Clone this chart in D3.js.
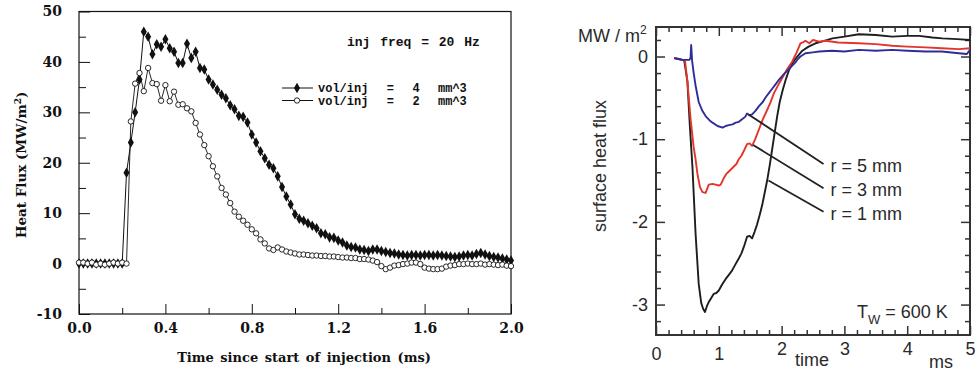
<!DOCTYPE html>
<html><head><meta charset="utf-8">
<script src="https://cdn.jsdelivr.net/npm/d3@7"></script>
<style>body{margin:0;background:#fff} svg{display:block}</style>
</head><body><svg id="c" width="976" height="372"></svg>
<script>
// ---------- LEFT PANEL DATA ----------
const leftTimes = [0,0.02,0.04,0.06,0.08,0.1,0.12,0.14,0.16,0.18,0.2,0.22,0.24,0.26,0.28,0.3,0.32,0.34,0.36,0.38,0.4,
0.42,0.44,0.46,0.48,0.5,0.52,0.54,0.56,0.58,0.6,0.62,0.64,0.66,0.68,0.7,0.72,0.74,0.76,0.78,0.8,
0.82,0.84,0.86,0.88,0.9,0.92,0.94,0.96,0.98,1.0,1.02,1.04,1.06,1.08,1.1,1.12,1.14,1.16,1.18,1.2,
1.22,1.24,1.26,1.28,1.3,1.32,1.34,1.36,1.38,1.4,1.42,1.44,1.46,1.48,1.5,1.52,1.54,1.56,1.58,1.6,
1.62,1.64,1.66,1.68,1.7,1.72,1.74,1.76,1.78,1.8,1.82,1.84,1.86,1.88,1.9,1.92,1.94,1.96,1.98,2.0];
const flux4 = [0,0,0,0,0,0,0,0,0,0,0,
18,24,30,36.5,46,45,41.5,43.5,43,44.5,
42.7,42,39.8,39.8,43.6,40.8,42,38.8,38.5,36.5,
35.5,34.5,33.5,32.8,31.4,30.6,29.3,29.1,28,25.6,
24,22.3,20.9,19.6,18.9,17.3,15.2,13.3,11.7,9.8,
8.9,8.5,8.0,7.5,7.0,6.0,5.8,5.2,5.1,4.6,
4.2,3.6,3.3,3.2,2.8,2.7,2.5,2.8,2.8,2.5,
2.3,2.1,2.0,1.8,1.7,1.6,1.7,1.7,1.6,1.7,
1.7,1.6,1.7,1.6,1.5,1.4,1.3,1.4,1.6,1.7,
1.6,1.9,2.1,1.8,1.5,1.3,1.2,1.0,0.8,0.6];
const flux2 = [0.2,0.2,0,0.2,-0.2,0,-0.2,0,0.2,0,0.2,0,
28.2,35.7,37.8,34.2,38.8,35.8,35.6,32.3,35.4,32.2,
34.1,31.5,31.6,30.8,30.2,27.9,25.6,23.5,21.3,19.3,
17.3,15.0,13.7,12.0,10.3,9.3,8.5,7.7,6.8,6.0,
4.8,4.0,3.0,2.7,3.2,2.8,2.4,2.2,2.0,1.8,
1.8,1.7,1.6,1.6,1.5,1.5,1.4,1.4,1.3,1.2,
1.2,1.1,1.1,0.9,0.9,0.8,0.6,0.3,-0.5,-1.1,
-0.8,-0.4,-0.3,-0.1,0.0,0.2,0.2,-0.1,-0.8,-1.0,
-1.1,-1.1,-1.0,-0.6,-0.4,-0.3,-0.1,-0.1,0.0,-0.1,
-0.1,0.0,-0.2,-0.1,-0.2,-0.3,-0.2,-0.4,-0.5];
const leftXTicks = [0,0.4,0.8,1.2,1.6,2.0];
const leftXMinor = [0.2,0.6,1.0,1.4,1.8];
const leftYTicks = [-10,0,10,20,30,40,50];
const leftYMinor = [-5,5,15,25,35,45];
const leftLegend = ["vol/inj  =  4  mm^3","vol/inj  =  2  mm^3"];
const leftNote = "inj freq = 20 Hz";
const leftXTitle = "Time since start of injection (ms)";
const leftYTitle = "Heat Flux (MW/m";

// ---------- RIGHT PANEL DATA ----------
const blueT = [0.29,0.36,0.42,0.48,0.53,0.55,0.56,0.575,0.60,0.63,0.68,0.74,0.79,0.85,0.90,0.98,1.06,1.11,1.16,1.22,1.27,1.32,1.37,1.42,1.45,1.49,1.53,1.58,1.64,1.70,1.75,1.80,1.85,1.90,1.96,2.04,2.12,2.17,2.22,2.26,2.30,2.38,2.50,2.60,2.80,3.00,3.23,3.50,3.76,4.00,4.29,4.55,4.82,4.95,5.0];
const blueV = [-0.02,-0.03,-0.04,-0.04,-0.04,-0.02,0.14,-0.05,-0.20,-0.35,-0.55,-0.66,-0.72,-0.77,-0.80,-0.84,-0.86,-0.84,-0.83,-0.82,-0.80,-0.79,-0.76,-0.73,-0.69,-0.71,-0.70,-0.66,-0.60,-0.55,-0.49,-0.44,-0.39,-0.34,-0.28,-0.21,-0.15,-0.11,-0.07,-0.03,0.00,0.04,0.05,0.06,0.07,0.06,0.08,0.07,0.08,0.07,0.06,0.06,0.04,0.03,0.08];
const redT = [0.29,0.36,0.42,0.46,0.50,0.55,0.60,0.63,0.66,0.70,0.74,0.79,0.84,0.90,0.95,1.00,1.03,1.08,1.12,1.16,1.20,1.24,1.28,1.32,1.36,1.40,1.45,1.49,1.53,1.58,1.64,1.70,1.75,1.82,1.88,1.95,2.01,2.09,2.17,2.24,2.30,2.34,2.38,2.44,2.50,2.60,2.70,2.90,3.23,3.50,3.76,4.00,4.29,4.55,4.82,5.0];
const redV = [-0.02,-0.03,-0.04,-0.04,-0.30,-0.75,-1.10,-1.24,-1.42,-1.58,-1.64,-1.65,-1.55,-1.54,-1.55,-1.56,-1.55,-1.47,-1.42,-1.39,-1.36,-1.33,-1.30,-1.24,-1.20,-1.14,-1.06,-1.05,-1.08,-1.00,-0.88,-0.76,-0.68,-0.56,-0.44,-0.34,-0.26,-0.15,-0.06,0.05,0.16,0.17,0.19,0.16,0.20,0.18,0.19,0.17,0.16,0.15,0.13,0.12,0.11,0.10,0.09,0.10];
const blackT = [0.29,0.36,0.42,0.45,0.50,0.54,0.58,0.63,0.68,0.72,0.75,0.78,0.81,0.84,0.88,0.92,0.96,1.00,1.05,1.11,1.16,1.21,1.26,1.32,1.36,1.40,1.45,1.49,1.53,1.57,1.61,1.65,1.69,1.73,1.77,1.81,1.85,1.89,1.93,1.97,2.02,2.07,2.12,2.17,2.25,2.33,2.43,2.54,2.68,2.81,3.00,3.23,3.50,3.76,4.00,4.19,4.40,4.56,4.80,5.0];
const blackV = [-0.02,-0.03,-0.04,-0.05,-0.30,-0.85,-1.33,-2.14,-2.75,-2.98,-3.05,-3.09,-3.02,-2.97,-2.92,-2.87,-2.86,-2.83,-2.76,-2.69,-2.64,-2.59,-2.52,-2.44,-2.38,-2.30,-2.18,-2.17,-2.20,-2.12,-2.03,-1.92,-1.80,-1.65,-1.50,-1.32,-1.12,-0.92,-0.72,-0.55,-0.40,-0.27,-0.16,-0.08,0.00,0.07,0.12,0.16,0.19,0.22,0.24,0.27,0.26,0.24,0.25,0.25,0.23,0.22,0.21,0.20];
const rightXTicks = [0,1,2,3,4,5];
const rightXMinor = [0.2,0.4,0.6,0.8,1.2,1.4,1.6,1.8,2.2,2.4,2.6,2.8,3.2,3.4,3.6,3.8,4.2,4.4,4.6,4.8];
const rightYTicks = [-3,-2,-1,0];
const rightYMinor = [0.2,-0.2,-0.4,-0.6,-0.8,-1.2,-1.4,-1.6,-1.8,-2.2,-2.4,-2.6,-2.8,-3.2];
const rLabels = ["r = 5 mm","r = 3 mm","r = 1 mm"];

// ---------- DRAW ----------
const svg = d3.select("#c");
svg.append("rect").attr("width",976).attr("height",372).attr("fill","#fff");

// LEFT
const serif = "'DejaVu Serif', serif";
const mono = "'Liberation Mono', monospace";
const xL = d3.scaleLinear([0,2],[79,511]);
const yL = d3.scaleLinear([-10,50],[314,11.5]);
const gL = svg.append("g");

function styleAxis(g){ g.select(".domain").remove(); g.selectAll("line").attr("stroke","#111"); }
gL.append("g").attr("transform","translate(0,314)")
  .call(d3.axisBottom(xL).tickValues(leftXTicks).tickSize(-10).tickPadding(9).tickFormat(d3.format(".1f")))
  .call(styleAxis)
  .call(g=>g.selectAll("text").attr("font-family",serif).attr("font-weight","bold").attr("font-size",14).attr("fill","#111"));
gL.append("g").attr("transform","translate(0,314)")
  .call(d3.axisBottom(xL).tickValues(leftXMinor).tickSize(-6).tickFormat(""))
  .call(styleAxis);
gL.append("g").attr("transform","translate(79,0)")
  .call(d3.axisLeft(yL).tickValues(leftYTicks).tickSize(-11).tickPadding(17).tickFormat(d=>String(d)))
  .call(styleAxis)
  .call(g=>g.selectAll("text").attr("font-family",serif).attr("font-weight","bold").attr("font-size",14).attr("fill","#111"));
gL.append("g").attr("transform","translate(79,0)")
  .call(d3.axisLeft(yL).tickValues(leftYMinor).tickSize(-7).tickFormat(""))
  .call(styleAxis);
gL.append("rect").attr("x",79).attr("y",11.5).attr("width",432).attr("height",302.5)
  .attr("fill","none").attr("stroke","#111").attr("stroke-width",1.2);

const ptsL4 = leftTimes.map((t,i)=>[t,flux4[i]]);
const ptsL2 = leftTimes.map((t,i)=>[t,flux2[i]]);
const lineL = d3.line().x(d=>xL(d[0])).y(d=>yL(d[1]));
gL.append("path").attr("d",lineL(ptsL4)).attr("fill","none").attr("stroke","#111").attr("stroke-width",1);
gL.append("path").attr("d",lineL(ptsL2)).attr("fill","none").attr("stroke","#111").attr("stroke-width",0.9);
const diamond = d3.symbol(d3.symbolDiamond, 32);
gL.selectAll(".f4").data(ptsL4).join("path").attr("d",diamond)
  .attr("transform",d=>`translate(${xL(d[0])},${yL(d[1])})`).attr("fill","#111");
gL.selectAll(".f2").data(ptsL2).join("circle")
  .attr("cx",d=>xL(d[0])).attr("cy",d=>yL(d[1])).attr("r",2.7)
  .attr("fill","#fff").attr("stroke","#111").attr("stroke-width",0.9);

// left texts
gL.append("text").attr("x",347).attr("y",46).attr("font-family",mono).attr("font-weight","bold")
  .attr("font-size",13).attr("word-spacing",2).attr("fill","#111").text(leftNote);
leftLegend.forEach((s,i)=>{
  const y = 88 + i*12.5;
  gL.append("line").attr("x1",282).attr("x2",313).attr("y1",y).attr("y2",y).attr("stroke","#111").attr("stroke-width",1);
  if(i===0) gL.append("path").attr("d",diamond).attr("transform",`translate(297,${y})`).attr("fill","#111");
  else gL.append("circle").attr("cx",297).attr("cy",y).attr("r",2.7).attr("fill","#fff").attr("stroke","#111").attr("stroke-width",0.9);
  gL.append("text").attr("x",318).attr("y",y+4).attr("font-family",mono).attr("font-weight","bold")
    .attr("font-size",12).attr("word-spacing",2).attr("xml:space","preserve").style("white-space","pre")
    .attr("fill","#111").text(s);
});
gL.append("text").attr("x",304).attr("y",362).attr("text-anchor","middle").attr("font-family",serif)
  .attr("font-weight","bold").attr("font-size",13).attr("word-spacing",2).attr("fill","#111").text(leftXTitle);
const yt = gL.append("text").attr("transform","translate(26,165) rotate(-90)").attr("text-anchor","middle")
  .attr("font-family",serif).attr("font-weight","bold").attr("font-size",13.5).attr("fill","#111");
yt.append("tspan").text(leftYTitle);
yt.append("tspan").attr("dy",-5).attr("font-size",9).text("2");
yt.append("tspan").attr("dy",5).text(")");

// RIGHT
const sans = "'Liberation Sans', Arial, sans-serif";
const tc = "#2a2a2a";
const xR = d3.scaleLinear([0,5],[656,970]);
const yR = d3.scaleLinear([-3.368,0.357],[335,27]);
const gR = svg.append("g");
function sa(g){ g.select(".domain").remove(); g.selectAll("line").attr("stroke","#333").attr("stroke-width",1.5); }
// bottom
gR.append("g").attr("transform","translate(0,335)")
  .call(d3.axisBottom(xR).tickValues(rightXTicks).tickSize(-9).tickPadding(12).tickFormat(d=>String(d)))
  .call(sa)
  .call(g=>g.selectAll("text").attr("font-family",sans).attr("font-size",18).attr("fill",tc)
     .attr("transform",d=>d>=2?"translate(0,-5)":null));
gR.append("g").attr("transform","translate(0,335)").call(d3.axisBottom(xR).tickValues(rightXMinor).tickSize(-5).tickFormat("")).call(sa);
// top
gR.append("g").attr("transform","translate(0,27)").call(d3.axisTop(xR).tickValues(rightXTicks).tickSize(-9).tickFormat("")).call(sa);
gR.append("g").attr("transform","translate(0,27)").call(d3.axisTop(xR).tickValues(rightXMinor).tickSize(-5).tickFormat("")).call(sa);
// left
gR.append("g").attr("transform","translate(656,0)")
  .call(d3.axisLeft(yR).tickValues(rightYTicks).tickSize(-9).tickPadding(8).tickFormat(d=>String(d)))
  .call(sa)
  .call(g=>g.selectAll("text").attr("font-family",sans).attr("font-size",18).attr("fill",tc));
gR.append("g").attr("transform","translate(656,0)").call(d3.axisLeft(yR).tickValues(rightYMinor).tickSize(-5).tickFormat("")).call(sa);
// right
gR.append("g").attr("transform","translate(970,0)").call(d3.axisRight(yR).tickValues(rightYTicks).tickSize(-9).tickFormat("")).call(sa);
gR.append("g").attr("transform","translate(970,0)").call(d3.axisRight(yR).tickValues(rightYMinor).tickSize(-5).tickFormat("")).call(sa);
gR.append("rect").attr("x",656).attr("y",27).attr("width",314).attr("height",308)
  .attr("fill","none").attr("stroke","#333").attr("stroke-width",2);

const lineR = d3.line().x(d=>xR(d[0])).y(d=>yR(d[1]));
const series = [
  {t:blackT,v:blackV,c:"#1e1e1e"},
  {t:redT,v:redV,c:"#e2352b"},
  {t:blueT,v:blueV,c:"#2d2d9c"}
];
series.forEach(s=>{
  gR.append("path").attr("d",lineR(s.t.map((t,i)=>[t,s.v[i]])))
    .attr("fill","none").attr("stroke",s.c).attr("stroke-width",1.9).attr("stroke-linejoin","round");
});
// leader lines (label anchors in data units)
const leaders = [[[1.472,-0.70],[2.668,-1.30]],[[1.547,-1.07],[2.668,-1.594]],[[1.791,-1.50],[2.668,-1.877]]];
leaders.forEach((l,i)=>{
  gR.append("line").attr("x1",xR(l[0][0])).attr("y1",yR(l[0][1])).attr("x2",xR(l[1][0])).attr("y2",yR(l[1][1]))
    .attr("stroke","#222").attr("stroke-width",1.8);
  gR.append("text").attr("x",xR(l[1][0])+7).attr("y",yR(l[1][1])+8).attr("font-family",sans)
    .attr("font-size",18).attr("fill",tc).text(rLabels[i]);
});
// unit label
const mw = gR.append("text").attr("x",578).attr("y",42).attr("font-family",sans).attr("font-size",18).attr("fill",tc);
mw.append("tspan").text("MW / m");
mw.append("tspan").attr("dy",-8).attr("font-size",12).text("2");
// y title
gR.append("text").attr("transform","translate(606,166) rotate(-90)").attr("text-anchor","middle")
  .attr("font-family",sans).attr("font-size",18).attr("fill",tc).text("surface heat flux");
// x labels
gR.append("text").attr("x",812).attr("y",366).attr("text-anchor","middle").attr("font-family",sans)
  .attr("font-size",18).attr("fill",tc).text("time");
gR.append("text").attr("x",941).attr("y",368).attr("text-anchor","middle").attr("font-family",sans)
  .attr("font-size",18).attr("fill",tc).text("ms");
// T_W label
const tw = gR.append("text").attr("x",857).attr("y",318).attr("font-family",sans).attr("font-size",18).attr("fill",tc);
tw.append("tspan").text("T");
tw.append("tspan").attr("dy",6).attr("font-size",13).text("W");
tw.append("tspan").attr("dy",-6).text(" = 600 K");
</script></body></html>
